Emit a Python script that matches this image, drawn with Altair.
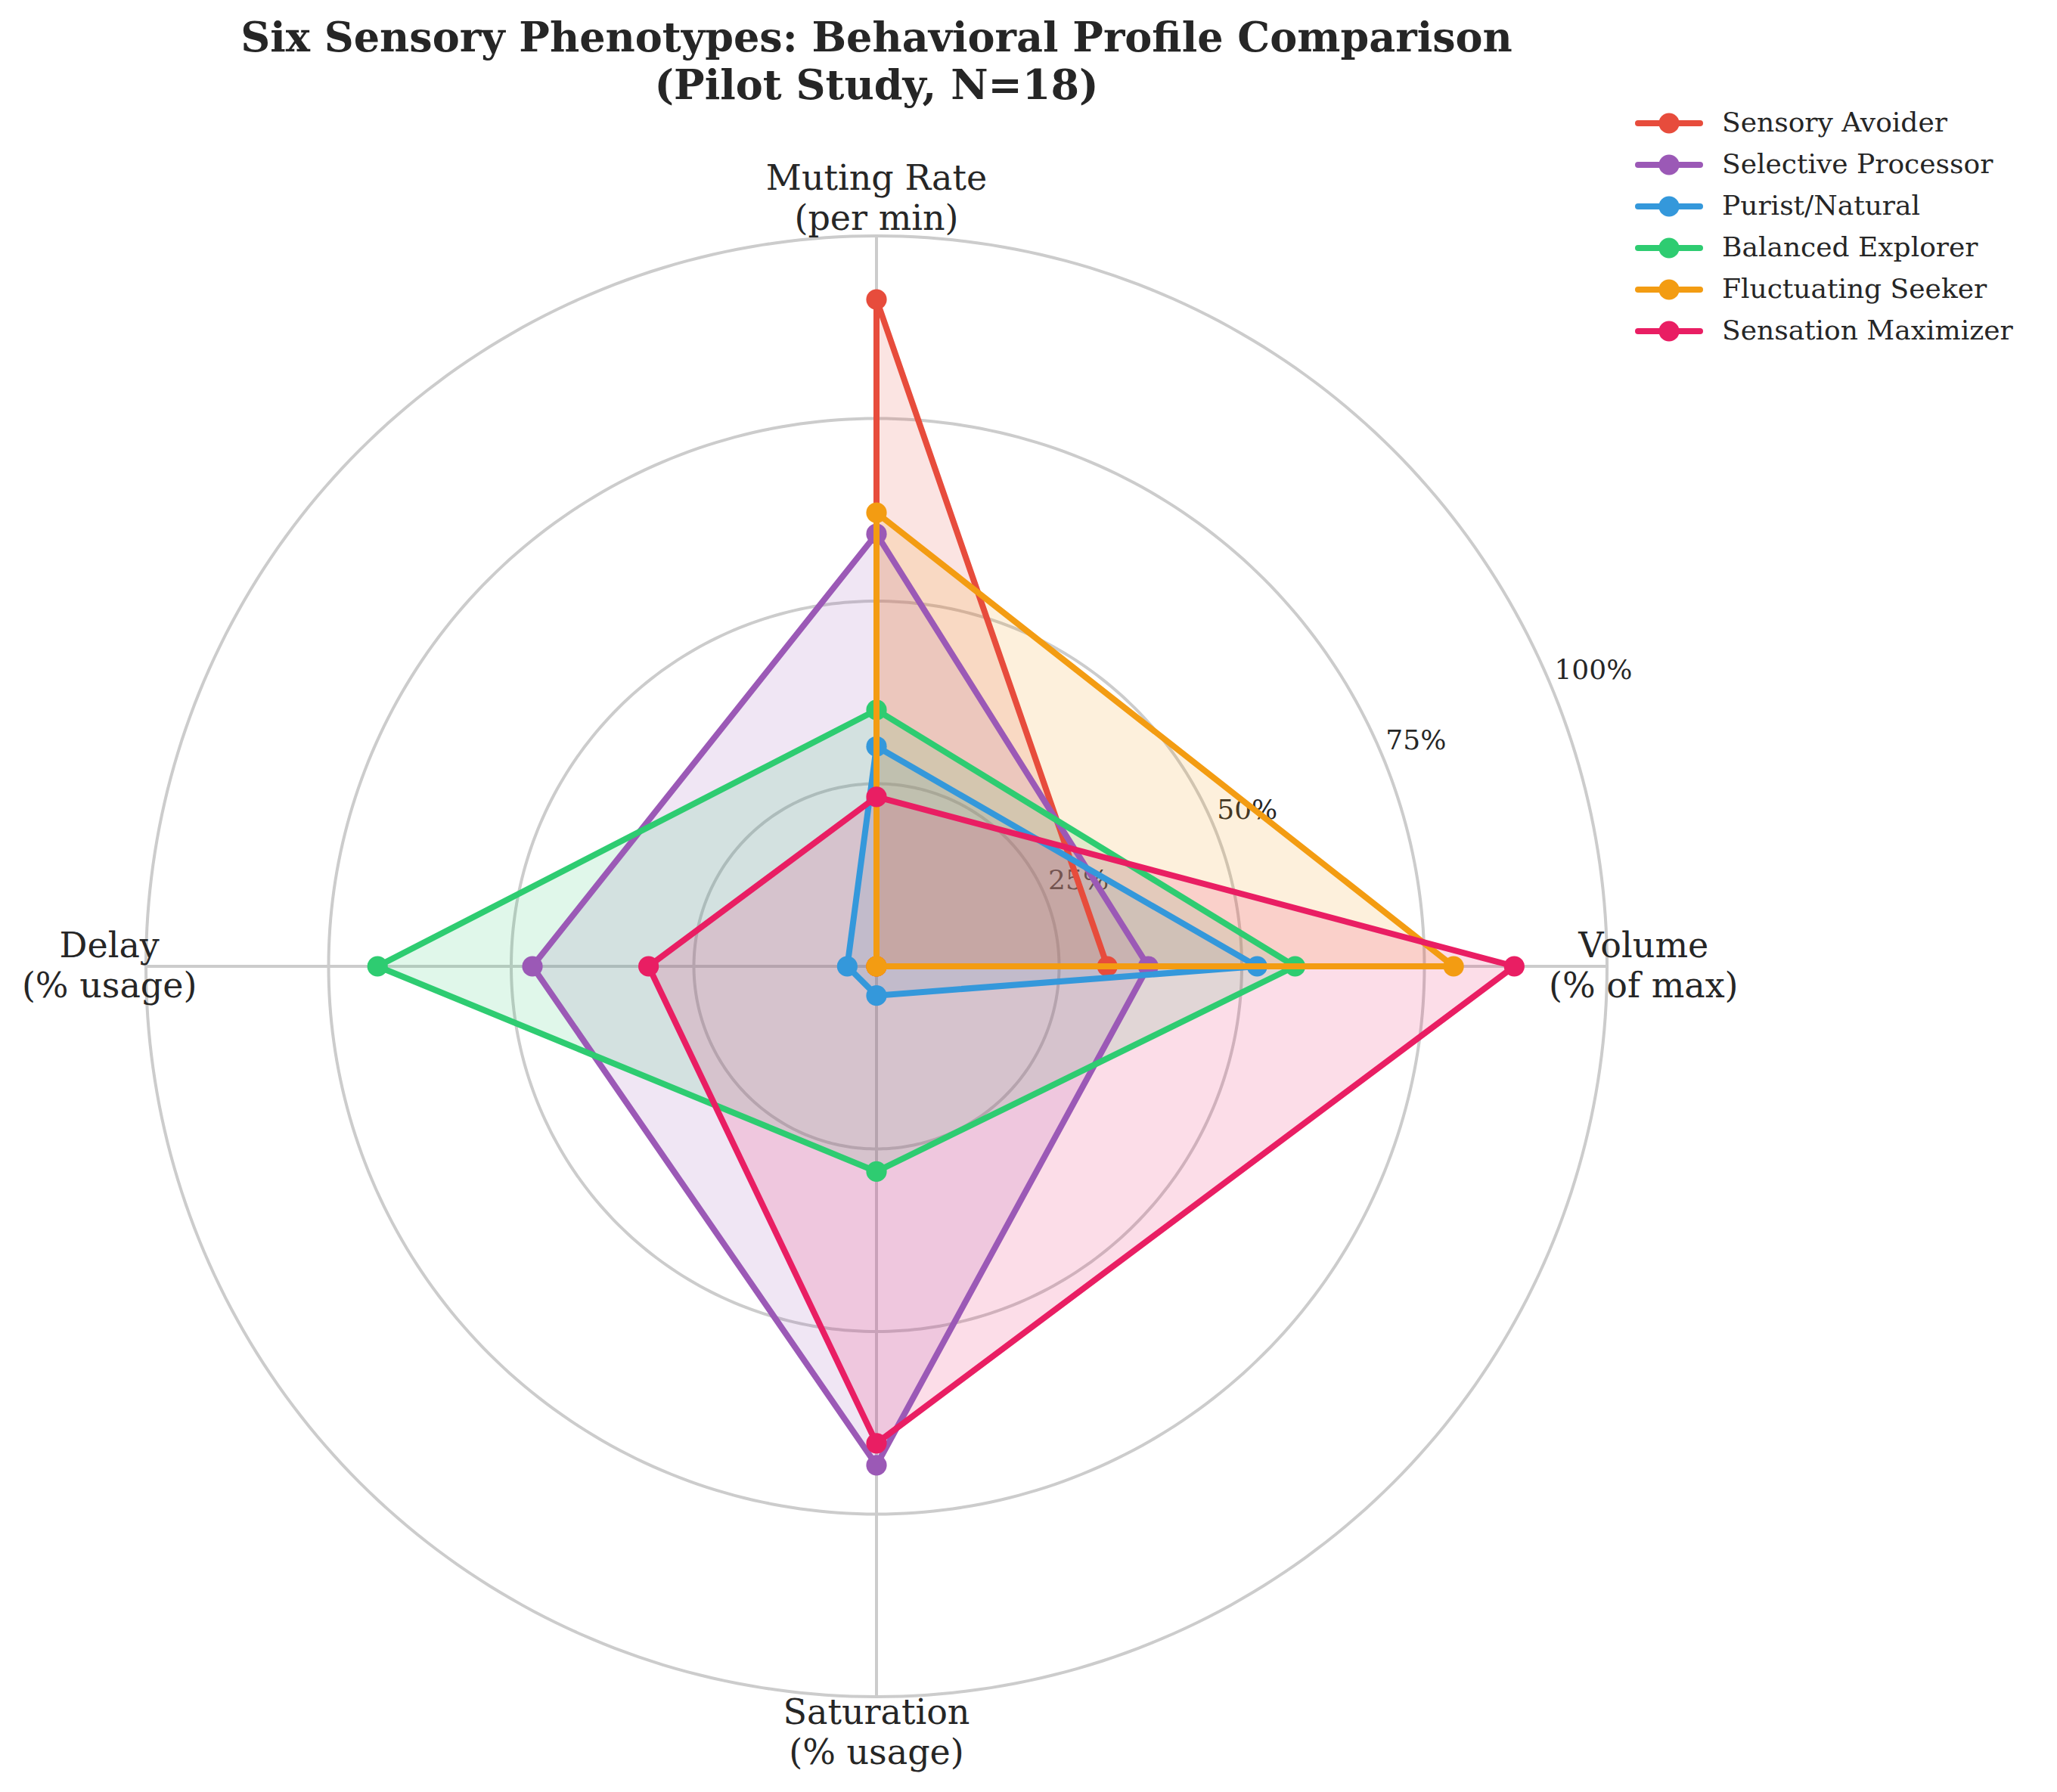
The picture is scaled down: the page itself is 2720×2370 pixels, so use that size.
import altair as alt
import numpy as np
import pandas as pd

# ---------------- data ----------------
TITLE_LINES = ["Six Sensory Phenotypes: Behavioral Profile Comparison", "(Pilot Study, N=18)"]
AXIS_LABELS = ["Volume\n(% of max)", "Muting Rate\n(per min)", "Delay\n(% usage)", "Saturation\n(% usage)"]
SERIES = ["Sensory Avoider", "Selective Processor", "Purist/Natural",
          "Balanced Explorer", "Fluctuating Seeker", "Sensation Maximizer"]
COLORS = ["#e74c3c", "#9b59b6", "#3498db", "#2ecc71", "#f39c12", "#e91e63"]
VOLUME = [0.316, 0.372, 0.521, 0.573, 0.790, 0.873]
MUTING = [0.913, 0.592, 0.301, 0.351, 0.621, 0.232]
DELAY = [0.000, 0.471, 0.040, 0.683, 0.000, 0.312]
SATURATION = [0.000, 0.683, 0.040, 0.281, 0.000, 0.653]
R_TICKS = [0.25, 0.50, 0.75, 1.00]
R_TICK_LABELS = ["25%", "50%", "75%", "100%"]

# ---------------- layout (pixels of the final image) ----------------
CX, CY, R = 1159.0, 1278.0, 966.0
W, H = 2704, 2354
FONT = "DejaVu Serif"
TXT = "#262626"
GRID = "#cccccc"
LW = 8
MSIZE = 740


def to_x(px):
    return (px - CX) / R


def to_y(py):
    return (CY - py) / R


XDOM = [to_x(8), to_x(8 + W)]
YDOM = [to_y(8 + H), to_y(8)]
xs = alt.Scale(domain=XDOM, nice=False, zero=False)
ys = alt.Scale(domain=YDOM, nice=False, zero=False)
cscale = alt.Scale(domain=SERIES, range=COLORS)

n_ax = len(AXIS_LABELS)
angles = [2 * np.pi * k / n_ax for k in range(n_ax)]

# series polygons
rows = []
for i, s in enumerate(SERIES):
    vals = [VOLUME[i], MUTING[i], DELAY[i], SATURATION[i]]
    for k in range(n_ax + 1):
        r = vals[k % n_ax]
        a = angles[k % n_ax]
        rows.append({"series": s, "order": k, "x": r * np.cos(a), "y": r * np.sin(a),
                     "closing": k == n_ax})
pts = pd.DataFrame(rows)

# grid rings
ring_rows = []
for t in R_TICKS:
    for j, a in enumerate(np.linspace(0, 2 * np.pi, 361)):
        ring_rows.append({"ring": t, "idx": j, "x": t * np.cos(a), "y": t * np.sin(a)})
rings = pd.DataFrame(ring_rows)

spokes = pd.DataFrame({"x": [0.0] * n_ax, "y": [0.0] * n_ax,
                       "x2": [np.cos(a) for a in angles], "y2": [np.sin(a) for a in angles]})

lab_a = np.deg2rad(22.5)
rlabels = pd.DataFrame({"x": [t * np.cos(lab_a) for t in R_TICKS],
                        "y": [t * np.sin(lab_a) for t in R_TICKS],
                        "label": R_TICK_LABELS})

LAB_R = 1.05
axlabels = pd.DataFrame({"x": [LAB_R * np.cos(a) for a in angles],
                         "y": [LAB_R * np.sin(a) for a in angles],
                         "label": AXIS_LABELS})

X = alt.X("x:Q", scale=xs, axis=None)
Y = alt.Y("y:Q", scale=ys, axis=None)

layers = []
layers.append(alt.Chart(rings).mark_line(stroke=GRID, strokeWidth=4).encode(
    x=X, y=Y, detail="ring:N", order="idx:Q"))
layers.append(alt.Chart(spokes).mark_rule(color=GRID, strokeWidth=4).encode(
    x=X, y=Y, x2="x2:Q", y2="y2:Q"))
layers.append(alt.Chart(rlabels).mark_text(align="left", baseline="bottom", dx=4, dy=-2,
                                           font=FONT, fontSize=36, color=TXT).encode(
    x=X, y=Y, text="label:N"))

# fills (all beneath the lines)
for i, s in enumerate(SERIES):
    d = pts[pts.series == s]
    layers.append(alt.Chart(d).mark_line(fill=COLORS[i], fillOpacity=0.15,
                                         stroke=COLORS[i], strokeOpacity=0, strokeWidth=0).encode(
        x=X, y=Y, order="order:Q"))

# lines + markers per series
for i, s in enumerate(SERIES):
    d = pts[pts.series == s]
    layers.append(alt.Chart(d).mark_line(strokeWidth=LW, strokeJoin="round").encode(
        x=X, y=Y, order="order:Q",
        color=alt.Color("series:N", scale=cscale, legend=None)))
    layers.append(alt.Chart(d[~d.closing]).mark_point(filled=True, size=MSIZE, opacity=1).encode(
        x=X, y=Y, color=alt.Color("series:N", scale=cscale, legend=None)))

# axis labels (two lines, block centred on the anchor)
AX_LH = 53
layers.append(alt.Chart(axlabels).mark_text(align="center", baseline="middle", lineBreak="\n",
                                            lineHeight=AX_LH, dy=-AX_LH / 2,
                                            font=FONT, fontSize=46, color=TXT).encode(
    x=X, y=Y, text="label:N"))

# title
T_LH = 63
title_df = pd.DataFrame({"x": [0.0], "y": [to_y(83)], "label": ["\n".join(TITLE_LINES)]})
layers.append(alt.Chart(title_df).mark_text(align="center", baseline="middle", lineBreak="\n",
                                            lineHeight=T_LH, dy=-T_LH / 2, font=FONT, fontSize=54,
                                            fontWeight="bold", color=TXT).encode(
    x=X, y=Y, text="label:N"))

# legend
leg = pd.DataFrame({"series": SERIES,
                    "x": [to_x(2166)] * len(SERIES),
                    "x2": [to_x(2248)] * len(SERIES),
                    "xm": [to_x(2207)] * len(SERIES),
                    "xt": [to_x(2277)] * len(SERIES),
                    "y": [to_y(163 + 55 * i) for i in range(len(SERIES))]})
lc = alt.Color("series:N", scale=cscale, legend=None)
layers.append(alt.Chart(leg).mark_rule(strokeWidth=LW, strokeCap="round").encode(
    x=X, x2="x2:Q", y=Y, color=lc))
layers.append(alt.Chart(leg).mark_point(filled=True, size=MSIZE, opacity=1).encode(
    x=alt.X("xm:Q", scale=xs, axis=None), y=Y, color=lc))
layers.append(alt.Chart(leg).mark_text(align="left", baseline="middle", font=FONT,
                                       fontSize=36, color=TXT).encode(
    x=alt.X("xt:Q", scale=xs, axis=None), y=Y, text="series:N"))

chart = alt.layer(*layers).properties(
    width=W, height=H, padding=0,
    autosize=alt.AutoSizeParams(type="none"),
    background="white",
).configure_view(stroke=None)

chart.save("out.html", embed_options={"renderer": "svg", "actions": False})
